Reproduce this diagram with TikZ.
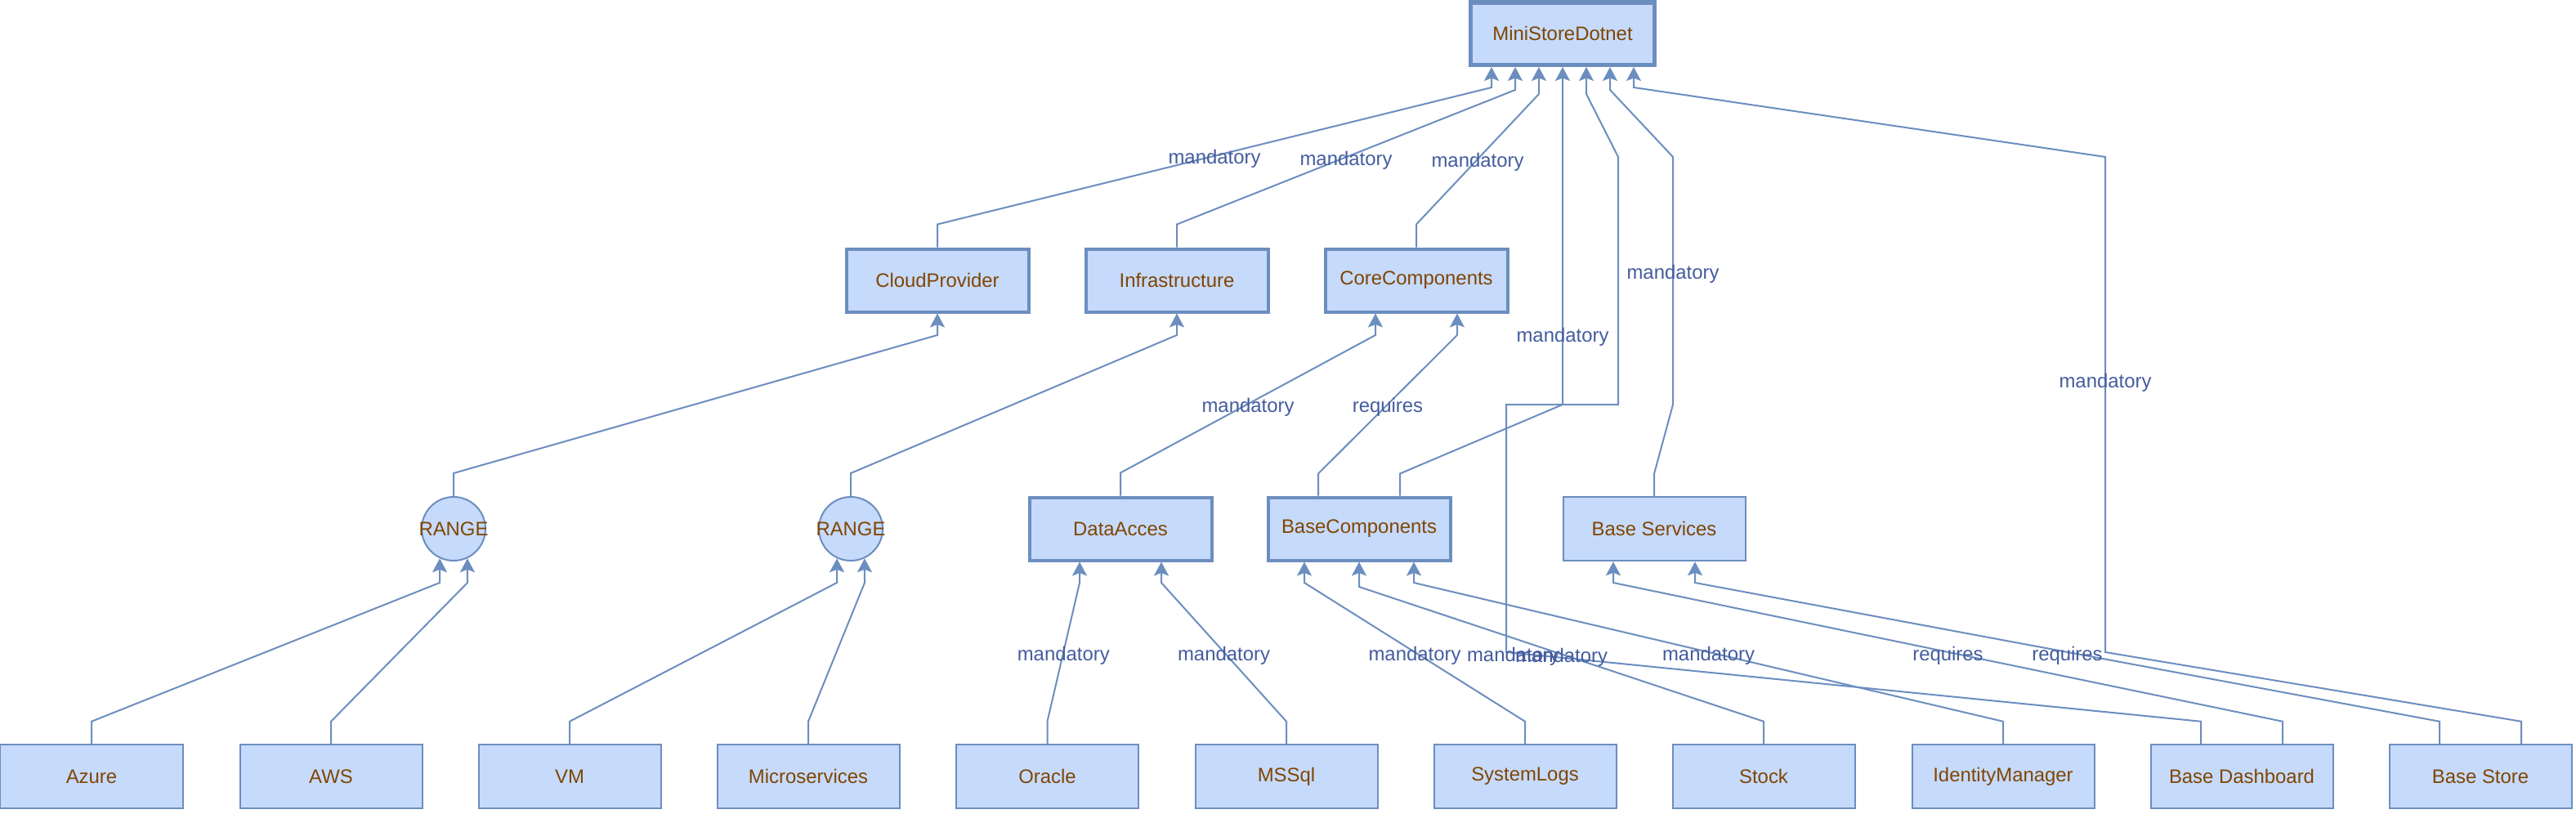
\documentclass[tikz,border=0pt]{standalone}
\usepackage{fontspec}
\setmainfont{Liberation Sans}
\usetikzlibrary{arrows.meta}
\definecolor{fmline}{RGB}{108,142,191}
\definecolor{fmfill}{RGB}{198,218,252}
\definecolor{fmtext}{RGB}{128,70,0}
\definecolor{fmlabel}{RGB}{68,92,158}
\newcommand\fmfont{\fontsize{6.8pt}{8pt}\selectfont}

\begin{document}
\begin{tikzpicture}[>=Stealth,
  feat/.style={draw=fmline,fill=fmfill,text=fmtext,font=\fmfont,line width=0.02cm,minimum width=2.23cm,minimum height=0.785cm,inner sep=2pt},
  abstr/.style={feat,line width=0.04cm,minimum height=0.77cm},
  rootbox/.style={feat,line width=0.055cm,minimum width=2.25cm,minimum height=0.765cm},
  grp/.style={circle,draw=fmline,fill=fmfill,text=fmtext,font=\fmfont,line width=0.02cm,minimum size=0.78cm,inner sep=0pt},
  edge/.style={draw=fmline,line width=0.02cm,-{Stealth[length=0.17cm,width=0.18cm,inset=0.035cm]}},
  lbl/.style={text=fmlabel,font=\fmfont,inner sep=0pt,yshift=-0.04cm}]
\useasboundingbox (0,0) rectangle (31.52,-9.95);
% tree nodes
\node[rootbox] (root) at (19.12,-0.41) {MiniStoreDotnet};
\node[abstr] (cloud) at (11.47,-3.43) {CloudProvider};
\node[abstr] (infra) at (14.40,-3.43) {Infrastructure};
\node[abstr] (core) at (17.33,-3.43) {CoreComponents};
\node[grp] (r1) at (5.55,-6.47) {\makebox[0pt]{RANGE}};
\node[grp] (r2) at (10.41,-6.47) {\makebox[0pt]{RANGE}};
\node[abstr] (da) at (13.71,-6.47) {DataAcces};
\node[abstr] (bc) at (16.63,-6.47) {BaseComponents};
\node[feat] (bsrv) at (20.24,-6.47) {Base Services};
\node[feat] (azure) at (1.12,-9.50) {Azure};
\node[feat] (aws) at (4.05,-9.50) {AWS};
\node[feat] (vm) at (6.97,-9.50) {VM};
\node[feat] (micro) at (9.89,-9.50) {Microservices};
\node[feat] (oracle) at (12.815,-9.50) {Oracle};
\node[feat] (mssql) at (15.74,-9.50) {MSSql};
\node[feat] (syslog) at (18.66,-9.50) {SystemLogs};
\node[feat] (stock) at (21.58,-9.50) {Stock};
\node[feat] (ident) at (24.51,-9.50) {IdentityManager};
\node[feat] (bdash) at (27.43,-9.50) {Base Dashboard};
\node[feat] (bstore) at (30.35,-9.50) {Base Store};
% edges to the root
\draw[edge] (cloud.north) -- ++(0,0.28) -- node[lbl] {mandatory} (18.25,-1.07) -- ([xshift=-0.87cm]root.south);
\draw[edge] (infra.north) -- ++(0,0.28) -- node[lbl] {mandatory} (18.54,-1.10) -- ([xshift=-0.58cm]root.south);
\draw[edge] (core.north) -- ++(0,0.28) -- node[lbl] {mandatory} (18.83,-1.15) -- ([xshift=-0.29cm]root.south);
\draw[edge] ([xshift=0.5cm]bc.north) -- ++(0,0.27) -- (19.12,-4.95) -- node[lbl,pos=0.21] {mandatory} (root.south);
\draw[edge] (bsrv.north) -- ++(0,0.27) -- (20.47,-4.95) -- node[lbl,pos=0.54] {mandatory} (20.47,-1.92) -- (19.70,-1.10) -- ([xshift=0.58cm]root.south);
\draw[edge] ([xshift=-0.5cm]bdash.north) -- ++(0,0.27) -- node[lbl,pos=0.99] {mandatory} (18.43,-7.98) -- (18.43,-4.95) -- (19.80,-4.95) -- (19.80,-1.92) -- (19.41,-1.15) -- ([xshift=0.29cm]root.south);
\draw[edge] ([xshift=0.5cm]bstore.north) -- ++(0,0.27) -- (25.76,-7.98) -- node[lbl,pos=0.55] {mandatory} (25.76,-1.92) -- (19.99,-1.07) -- ([xshift=0.87cm]root.south);
% groups
\draw[edge] (r1.north) -- ++(0,0.28) -- (11.47,-4.10) -- (cloud.south);
\draw[edge] (r2.north) -- ++(0,0.28) -- (14.40,-4.10) -- (infra.south);
\draw[edge] (azure.north) -- ++(0,0.27) -- (5.38,-7.13) -- (r1.245);
\draw[edge] (aws.north) -- ++(0,0.27) -- (5.72,-7.13) -- (r1.295);
\draw[edge] (vm.north) -- ++(0,0.27) -- (10.24,-7.13) -- (r2.245);
\draw[edge] (micro.north) -- ++(0,0.27) -- (10.58,-7.13) -- (r2.295);
% core components
\draw[edge] (da.north) -- ++(0,0.28) -- node[lbl] {mandatory} (16.83,-4.10) -- ([xshift=-0.5cm]core.south);
\draw[edge] ([xshift=-0.5cm]bc.north) -- ++(0,0.27) -- node[lbl] {requires} (17.83,-4.10) -- ([xshift=0.5cm]core.south);
\draw[edge] (oracle.north) -- ++(0,0.27) -- node[lbl] {mandatory} (13.21,-7.13) -- ([xshift=-0.5cm]da.south);
\draw[edge] (mssql.north) -- ++(0,0.27) -- node[lbl] {mandatory} (14.21,-7.13) -- ([xshift=0.5cm]da.south);
\draw[edge] (syslog.north) -- ++(0,0.27) -- node[lbl] {mandatory} (15.96,-7.13) -- ([xshift=-0.67cm]bc.south);
\draw[edge] (stock.north) -- ++(0,0.27) -- node[lbl] {mandatory} (16.63,-7.18) -- (bc.south);
\draw[edge] (ident.north) -- ++(0,0.27) -- node[lbl] {mandatory} (17.30,-7.13) -- ([xshift=0.67cm]bc.south);
% base services
\draw[edge] ([xshift=0.5cm]bdash.north) -- ++(0,0.27) -- node[lbl] {requires} (19.74,-7.13) -- ([xshift=-0.5cm]bsrv.south);
\draw[edge] ([xshift=-0.5cm]bstore.north) -- ++(0,0.27) -- node[lbl] {requires} (20.74,-7.13) -- ([xshift=0.5cm]bsrv.south);
\end{tikzpicture}
\end{document}
